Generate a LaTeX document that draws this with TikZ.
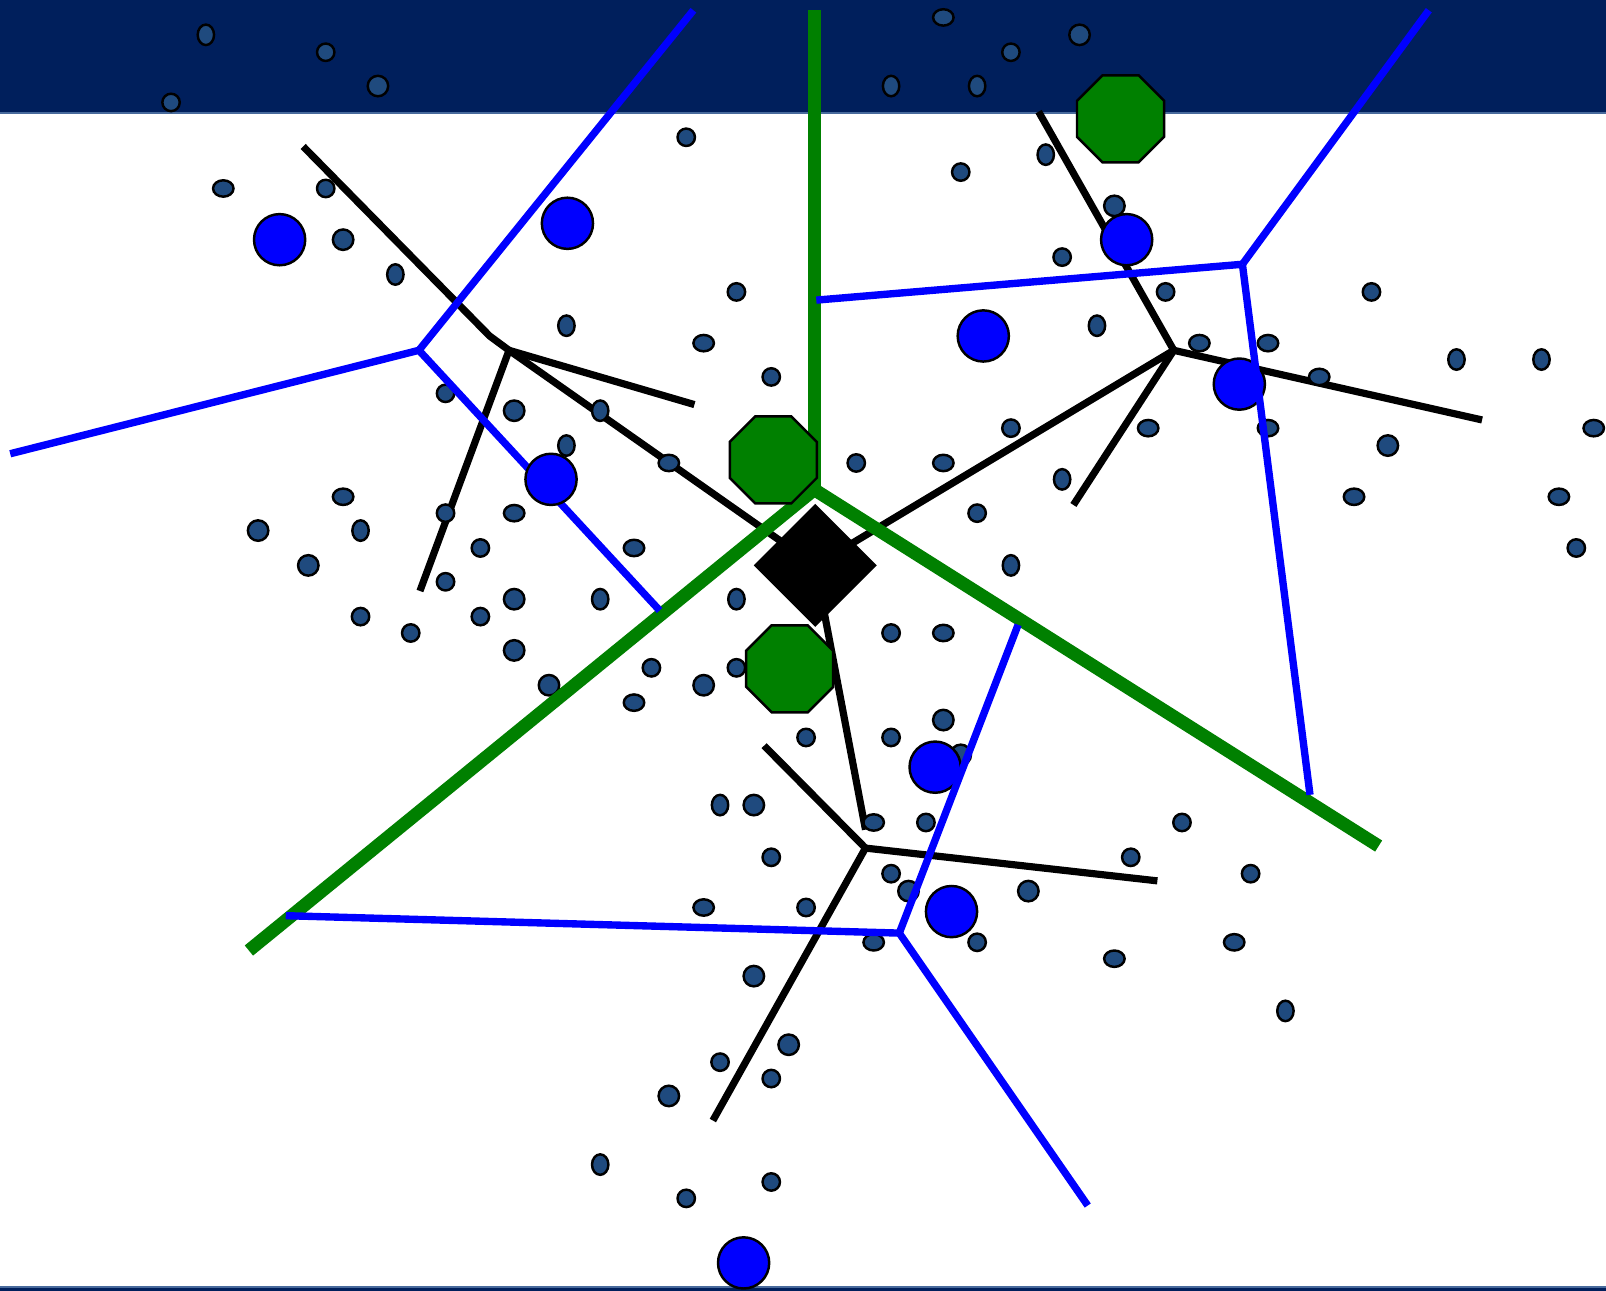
\documentclass[tikz,border=0pt]{standalone}
\definecolor{navy}{RGB}{0,31,92}
\definecolor{navyedge}{RGB}{72,106,156}
\definecolor{dotc}{RGB}{31,74,126}
\definecolor{grn}{RGB}{0,128,0}
\definecolor{blu}{RGB}{0,0,255}
\begin{document}
\begin{tikzpicture}[x=0.5pt,y=-0.5pt,
  blk/.style={line width=3.5pt,black},
  bluln/.style={line width=3.6pt,blu},
  grnln/.style={line width=6.4pt,grn},
  dot/.style={fill=dotc,draw=black,line width=1.2pt},
  bigc/.style={fill=blu,draw=black,line width=1.2pt},
  octo/.style={fill=grn,draw=black,line width=1.2pt},
  diam/.style={fill=black}]
\fill[white] (0,0) rectangle (1568,1260);
\useasboundingbox (0,0) rectangle (1568,1260);
% bands
\fill[navy] (0,0) rectangle (1568,110);
\fill[navyedge] (0,109) rectangle (1568,111.5);
\fill[navy] (0,1256) rectangle (1568,1260);
\fill[navyedge] (0,1255.5) rectangle (1568,1257.5);
% coordinates
\coordinate (D) at (796,552);
\coordinate (KA) at (497,342);
\coordinate (KB) at (1146,342);
\coordinate (KC) at (845,828);
\coordinate (GJ) at (795,478);
\coordinate (BA) at (409,342);
\coordinate (BB) at (1213,258);
\coordinate (BC) at (878,911);
% black lines
\draw[blk] (296,143) -- (478,328) -- (KA);
\draw[blk] (KA) -- (678,395);
\draw[blk] (KA) -- (410,577);
\draw[blk] (KA) -- (D);
\draw[blk] (1014,109) -- (KB);
\draw[blk] (KB) -- (1447,410);
\draw[blk] (KB) -- (1048,493);
\draw[blk] (KB) -- (D);
\draw[blk] (D) -- (845,810);
\draw[blk] (KC) -- (746,728);
\draw[blk] (KC) -- (1130,860);
\draw[blk] (KC) -- (696,1094);
% dots
\foreach \x/\y in {318/51,167/100,987/51,938/168,670/134,318/184,1037/251,719/285,1138/285,1339/285,
  753/368,435/384,987/418,836/452,435/501,954/501,469/535,1539/535,435/568,352/602,469/602,401/618,
  870/618,636/652,719/652,787/720,870/720,904/803,1154/803,753/837,1104/837,870/853,1221/853,787/886,
  954/920,703/1037,753/1053,670/1170,753/1154}
  \filldraw[dot] (\x,\y) circle [radius=8.5];
\foreach \x/\y in {369/84,1054/34,335/234,1088/201,502/401,1355/435,252/518,301/552,502/585,502/635,
  536/669,687/669,921/703,938/737,736/786,887/870,1004/870,736/953,770/1020,653/1070}
  \filldraw[dot] (\x,\y) circle [radius=10];
\foreach \x/\y in {921/17,218/184,687/335,1171/335,1238/335,1288/368,1121/418,1238/418,1556/418,
  653/452,921/452,335/485,1322/485,1522/485,502/501,619/535,921/618,619/686,853/803,687/886,
  853/920,1205/920,1088/936}
  \filldraw[dot] (\x,\y) ellipse [x radius=10,y radius=8];
\foreach \x/\y in {201/34,870/84,954/84,386/268,1021/151,553/318,1071/318,1422/351,1505/351,586/401,
  553/435,1037/468,352/518,987/552,586/585,719/585,703/786,1255/987,586/1137}
  \filldraw[dot] (\x,\y) ellipse [x radius=8,y radius=10];
% big blue circles
\foreach \x/\y in {273/234,554/218,1100/234,960/328,1210/375,913/749,929/890,726/1233}
  \filldraw[bigc] (\x,\y) circle [radius=25];
% green lines
\draw[grnln] (795,10) -- (GJ);
\draw[grnln] (GJ) -- (243,928);
\draw[grnln] (GJ) -- (1346,826);
% octagons
\foreach \x/\y in {1094/116,755/449,771/653}
  \filldraw[octo] (\x,\y) +(22.5:46) -- +(67.5:46) -- +(112.5:46) -- +(157.5:46)
     -- +(202.5:46) -- +(247.5:46) -- +(292.5:46) -- +(337.5:46) -- cycle;
% diamond
\fill[diam] (796,492) -- (856,552) -- (796,612) -- (736,552) -- cycle;
% blue lines
\draw[bluln] (677,10) -- (BA);
\draw[bluln] (BA) -- (10,443);
\draw[bluln] (BA) -- (644,596);
\draw[bluln] (1395,10) -- (BB);
\draw[bluln] (BB) -- (797,293);
\draw[bluln] (BB) -- (1279,776);
\draw[bluln] (994,610) -- (BC);
\draw[bluln] (BC) -- (279,894);
\draw[bluln] (BC) -- (1062,1177);
% circle on top of blue line
\filldraw[bigc] (538,468) circle [radius=25];
\end{tikzpicture}
\end{document}
